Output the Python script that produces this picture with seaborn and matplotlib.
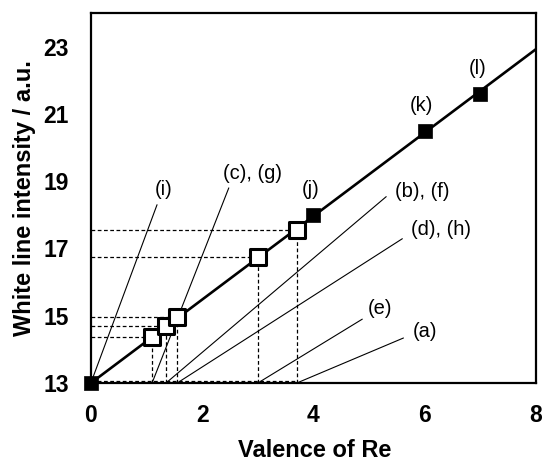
import matplotlib
matplotlib.use("Agg")
import matplotlib.pyplot as plt
import seaborn as sns
import pandas as pd

# Reference compounds (filled) and samples (open)
ref_valence = [0, 4, 6, 7]
ref_intensity = [13.0, 18.0, 20.5, 21.6]
ref_labels = ["", "(j)", "(k)", "(l)"]

sample_valence = [1.1, 1.35, 1.55, 3.0, 3.7]
sample_intensity = [14.36, 14.70, 14.95, 16.75, 17.55]

# Calibration line
fit_valence = [0, 8]
fit_intensity = [13.0, 22.92]

# Sample labels: text, point on the valence axis, leader end, text position
callout_text = ["(i)", "(c), (g)", "(b), (f)", "(d), (h)", "(e)", "(a)"]
callout_base = [0.0, 1.1, 1.35, 1.55, 3.0, 3.7]
callout_end_x = [1.19, 2.48, 5.31, 5.60, 4.88, 5.62]
callout_end_y = [18.3, 18.8, 18.54, 17.29, 14.90, 14.34]
callout_text_x = [1.30, 2.91, 5.96, 6.30, 5.19, 6.00]
callout_text_y = [18.76, 19.24, 18.68, 17.55, 15.23, 14.52]

sns.set_theme(style="white")
plt.rcParams["font.family"] = ["Liberation Sans", "DejaVu Sans"]
plt.rcParams["text.color"] = "black"
plt.rcParams["axes.labelcolor"] = "black"
plt.rcParams["xtick.color"] = "black"
plt.rcParams["ytick.color"] = "black"

fig = plt.figure(figsize=(5.44, 4.61), dpi=100)
ax = fig.add_axes([0.167, 0.169, 0.818, 0.803])

ymin, ymax = 13, 24
label_size = 14.5

# Dashed guides from each sample to the axes
for xv, yv in zip(sample_valence, sample_intensity):
    ax.plot([0, xv], [yv, yv], ls=(0, (3, 2)), color="black", lw=0.9, zorder=2)
    ax.plot([xv, xv], [ymin, yv], ls=(0, (3, 2)), color="black", lw=0.9, zorder=2)
ax.plot([0, max(sample_valence)], [13.05, 13.05], ls=(0, (3, 2)), color="black", lw=0.9, zorder=2)

# Leader lines for sample labels
for t, bx, ex, ey, tx, ty in zip(callout_text, callout_base, callout_end_x,
                                  callout_end_y, callout_text_x, callout_text_y):
    ax.plot([bx, ex], [ymin, ey], color="black", lw=0.8, zorder=2)
    ax.text(tx, ty, t, ha="center", va="center", fontsize=label_size, color="black")

fit_df = pd.DataFrame({"valence": fit_valence, "intensity": fit_intensity})
sns.lineplot(data=fit_df, x="valence", y="intensity", color="black", lw=1.9,
             ax=ax, zorder=3)

ref_df = pd.DataFrame({"valence": ref_valence, "intensity": ref_intensity})
sns.scatterplot(data=ref_df, x="valence", y="intensity", marker="s", s=110,
                color="black", edgecolor="black", linewidth=0.5, ax=ax,
                zorder=5, clip_on=False)

smp_df = pd.DataFrame({"valence": sample_valence, "intensity": sample_intensity})
sns.scatterplot(data=smp_df, x="valence", y="intensity", marker="s", s=125,
                facecolor="white", edgecolor="black", linewidth=2.2, ax=ax,
                zorder=5)

for xv, yv, lab in zip(ref_valence, ref_intensity, ref_labels):
    if lab:
        ax.text(xv - 0.05, yv + 0.75, lab, ha="center", va="center",
                fontsize=label_size, color="black")

ax.set_xlim(0, 8)
ax.set_ylim(ymin, ymax)
ax.set_xticks([0, 2, 4, 6, 8])
ax.set_yticks([13, 15, 17, 19, 21, 23])
ax.tick_params(direction="in", length=5, width=1.5, colors="black",
               labelsize=16.5)
ax.tick_params(axis="x", pad=15)
ax.tick_params(axis="y", pad=16)
for lab in ax.get_xticklabels() + ax.get_yticklabels():
    lab.set_fontweight("bold")
for sp in ax.spines.values():
    sp.set_linewidth(1.6)
    sp.set_color("black")

ax.set_xlabel("Valence of Re", fontsize=17, fontweight="bold")
ax.set_ylabel("White line intensity / a.u.", fontsize=17, fontweight="bold")
ax.xaxis.label.set_verticalalignment("center")
ax.yaxis.label.set_verticalalignment("center")
ax.xaxis.set_label_coords(0.503, -0.181)
ax.yaxis.set_label_coords(-0.148, 0.5)

fig.savefig("out.png", dpi=100)
